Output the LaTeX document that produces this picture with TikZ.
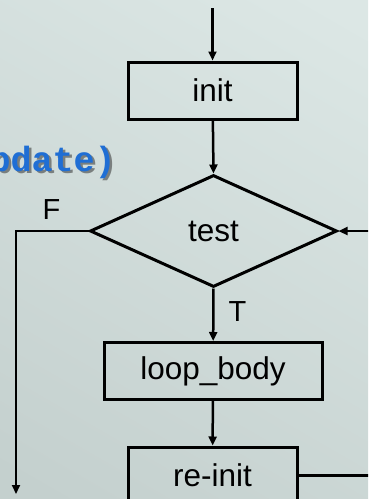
\documentclass[tikz,border=0pt]{standalone}
\usepackage{fontspec}
\setmainfont{Liberation Sans}
\setmonofont{Liberation Mono}
\usepackage{tikz}
\usetikzlibrary{arrows.meta, positioning, calc, shapes.geometric}
\definecolor{slideTop}{HTML}{DCE7E5}
\definecolor{slideBot}{HTML}{C4D0CE}
\definecolor{codeBlue}{HTML}{1F6ED4}
\newcommand{\boxfont}{\fontsize{31.5}{36}\selectfont}
\newcommand{\tagfont}{\fontsize{29}{33}\selectfont}
\newcommand{\codefont}{\ttfamily\bfseries\fontsize{35}{38}\selectfont}
\tikzstyle{stepbox} = [rectangle, draw, line width=3pt, inner sep=0pt, minimum height=57pt, font=\boxfont]
\tikzstyle{decision} = [diamond, draw, line width=3pt, inner sep=0pt, minimum width=247pt, minimum height=112pt, font=\boxfont]
\tikzstyle{flow} = [-{Triangle[length=9pt, width=8pt]}, line width=2.5pt]
\tikzstyle{branch} = [font=\tagfont]

\begin{document}
\begin{tikzpicture}[x=1pt, y=-1pt]
    % Slide background
    \clip (0,0) rectangle (368,499);
    \shade[top color=slideTop, bottom color=slideBot, shading angle=-30] (-60,-60) rectangle (430,560);

    % Caption line from the slide (runs off the left edge)
    \node[anchor=base west, inner sep=0pt, font=\codefont, text=black!80, opacity=0.55] (capshadow) at (-29,173.5) {update)};
    \node[anchor=base west, inner sep=0pt, font=\codefont, text=codeBlue] (caption) at (-31.5,171) {update)};

    % Flowchart nodes
    \node[stepbox, minimum width=169pt] (init) at (212.5,90.5) {init};
    \node[decision] (test) at (213.5,231) {test};
    \node[stepbox, minimum width=218pt] (body) at (213,371) {loop\_body};
    \node[stepbox, minimum width=169pt] (reinit) at (212.5,475.5) {re-init};

    % Free ends of the connectors
    \coordinate (entry) at (212.5,8);
    \coordinate (exit) at (16,494);
    \coordinate (back) at (400,475.5);

    % Connectors
    \draw[flow] (entry) -- (init);
    \draw[flow] (init) -- (test.north);
    \draw[flow] (test.south) -- (body);
    \draw[flow] (body) -- (reinit);
    \draw[flow] (test.west) -| (exit);
    \draw[flow] (reinit.east) -- (back) |- (test.east);

    % Branch labels
    \node[branch] (lblF) at (51.5,210) {F};
    \node[branch] (lblT) at (237.5,312) {T};
\end{tikzpicture}
\end{document}
